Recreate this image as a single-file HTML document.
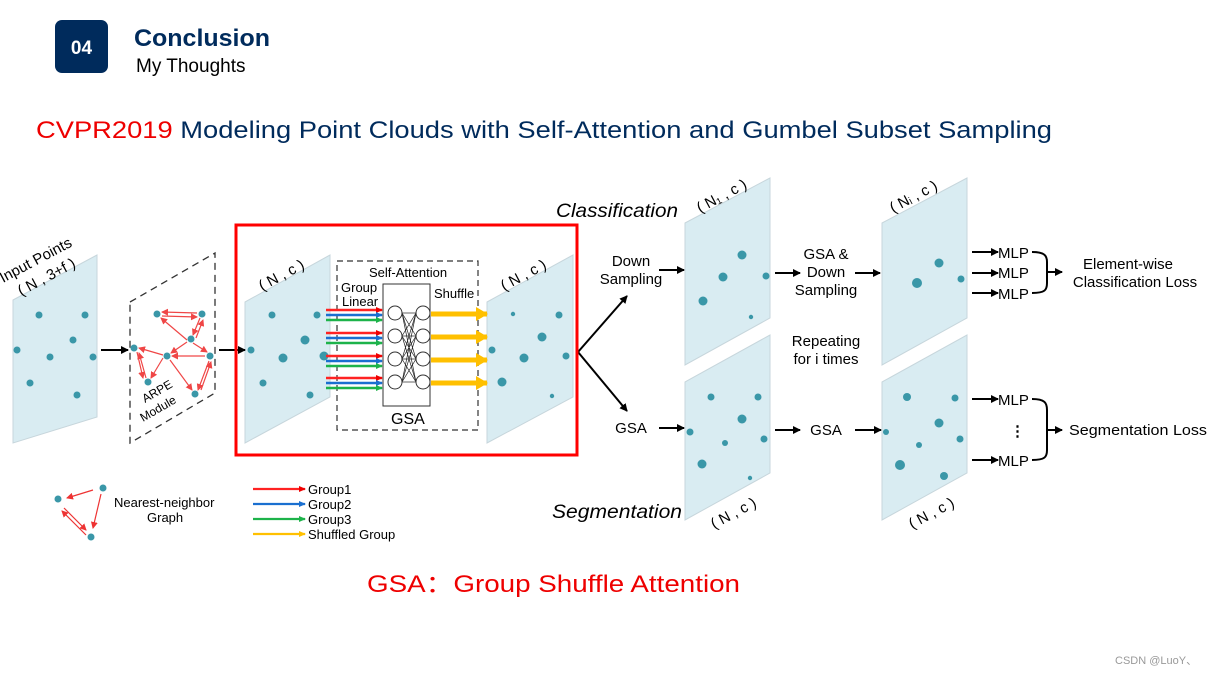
<!DOCTYPE html>
<html><head><meta charset="utf-8"><style>
html,body{margin:0;padding:0;background:#fff;}
svg{display:block;font-family:"Liberation Sans","Noto Sans CJK SC",sans-serif;}
</style></head><body>
<svg width="1209" height="675" viewBox="0 0 1209 675" xmlns="http://www.w3.org/2000/svg">
<defs>
<marker id="ak" markerWidth="8" markerHeight="8" refX="7" refY="4" orient="auto" markerUnits="userSpaceOnUse"><path d="M0,0 L8,4 L0,8 z" fill="#000"/></marker>
<marker id="ar" markerWidth="7" markerHeight="7" refX="6" refY="3.5" orient="auto" markerUnits="userSpaceOnUse"><path d="M0,0 L7,3.5 L0,7 z" fill="#e33"/></marker>
<marker id="ar2" markerWidth="7" markerHeight="6" refX="6" refY="3" orient="auto" markerUnits="userSpaceOnUse"><path d="M0,0 L7,3 L0,6 z" fill="#e00"/></marker>
<marker id="ab" markerWidth="7" markerHeight="6" refX="6" refY="3" orient="auto" markerUnits="userSpaceOnUse"><path d="M0,0 L7,3 L0,6 z" fill="#1a6fd0"/></marker>
<marker id="ag" markerWidth="7" markerHeight="6" refX="6" refY="3" orient="auto" markerUnits="userSpaceOnUse"><path d="M0,0 L7,3 L0,6 z" fill="#1db34a"/></marker>
<marker id="ay" markerWidth="7" markerHeight="6" refX="6" refY="3" orient="auto" markerUnits="userSpaceOnUse"><path d="M0,0 L7,3 L0,6 z" fill="#ffc000"/></marker>
<marker id="ay2" markerWidth="12" markerHeight="14" refX="11" refY="7" orient="auto" markerUnits="userSpaceOnUse"><path d="M0,0 L12,7 L0,14 z" fill="#ffc000"/></marker>
</defs>

<rect x="55" y="20" width="53" height="53" rx="7" fill="#002b5c"/>
<text x="81.5" y="54" font-size="19" font-weight="bold" fill="#fff" text-anchor="middle">04</text>
<text x="134" y="46" font-size="24" font-weight="bold" fill="#002b5c" textLength="136" lengthAdjust="spacingAndGlyphs">Conclusion</text>
<text x="136" y="72" font-size="19" fill="#000">My Thoughts</text>

<text x="36" y="138" font-size="24" fill="#002b5c" textLength="1016" lengthAdjust="spacingAndGlyphs"><tspan fill="#e00">CVPR2019</tspan> Modeling Point Clouds with Self-Attention and Gumbel Subset Sampling</text>

<g fill="#d9ecf2" stroke="#c7d6dc" stroke-width="1">
<polygon points="13,300 97,255 97,417 13,443"/>
<polygon points="245,302 330,255 330,397 245,443"/>
<polygon points="487,302 573,255 573,397 487,443"/>
<polygon points="685,223 770,178 770,318 685,365"/>
<polygon points="685,382 770,335 770,473 685,520"/>
<polygon points="882,223 967,178 967,318 882,365"/>
<polygon points="882,382 967,335 967,473 882,520"/>
</g>
<polygon points="130,302 215,253 215,393 130,443" fill="none" stroke="#333" stroke-width="1.3" stroke-dasharray="7,5"/>

<g fill="#3a97a8">
<circle cx="39" cy="315" r="3.5"/><circle cx="85" cy="315" r="3.5"/><circle cx="73" cy="340" r="3.5"/>
<circle cx="17" cy="350" r="3.5"/><circle cx="50" cy="357" r="3.5"/><circle cx="93" cy="357" r="3.5"/>
<circle cx="30" cy="383" r="3.5"/><circle cx="77" cy="395" r="3.5"/>
<circle cx="157" cy="314" r="3.5"/><circle cx="202" cy="314" r="3.5"/><circle cx="191" cy="339" r="3.5"/>
<circle cx="134" cy="348" r="3.5"/><circle cx="167" cy="356" r="3.5"/><circle cx="210" cy="356" r="3.5"/>
<circle cx="148" cy="382" r="3.5"/><circle cx="195" cy="394" r="3.5"/>
<circle cx="272" cy="315" r="3.5"/><circle cx="317" cy="315" r="3.5"/><circle cx="305" cy="340" r="4.5"/>
<circle cx="251" cy="350" r="3.5"/><circle cx="283" cy="358" r="4.5"/><circle cx="324" cy="356" r="4.5"/>
<circle cx="263" cy="383" r="3.5"/><circle cx="310" cy="395" r="3.5"/>
<circle cx="513" cy="314" r="2.2"/><circle cx="559" cy="315" r="3.5"/><circle cx="542" cy="337" r="4.5"/>
<circle cx="492" cy="350" r="3.5"/><circle cx="524" cy="358" r="4.5"/><circle cx="566" cy="356" r="3.5"/>
<circle cx="502" cy="382" r="4.5"/><circle cx="552" cy="396" r="2.2"/>
<circle cx="742" cy="255" r="4.5"/><circle cx="723" cy="277" r="4.5"/><circle cx="766" cy="276" r="3.5"/>
<circle cx="703" cy="301" r="4.5"/><circle cx="751" cy="317" r="2.2"/>
<circle cx="711" cy="397" r="3.5"/><circle cx="758" cy="397" r="3.5"/><circle cx="742" cy="419" r="4.5"/>
<circle cx="690" cy="432" r="3.5"/><circle cx="725" cy="443" r="3"/><circle cx="764" cy="439" r="3.5"/>
<circle cx="702" cy="464" r="4.5"/><circle cx="750" cy="478" r="2.2"/>
<circle cx="939" cy="263" r="4.5"/><circle cx="917" cy="283" r="5"/><circle cx="961" cy="279" r="3.5"/>
<circle cx="907" cy="397" r="4"/><circle cx="955" cy="398" r="3.5"/><circle cx="939" cy="423" r="4.5"/>
<circle cx="886" cy="432" r="3"/><circle cx="919" cy="445" r="3"/><circle cx="960" cy="439" r="3.5"/>
<circle cx="900" cy="465" r="5"/><circle cx="944" cy="476" r="4"/>
</g>

<g stroke="#e33" stroke-width="1.2" fill="none" marker-end="url(#ar)" opacity="0.9">
<line x1="197" y1="313" x2="162" y2="312"/><line x1="162" y1="316" x2="197" y2="317"/>
<line x1="200" y1="318" x2="193" y2="335"/><line x1="196" y1="338" x2="203" y2="320"/>
<line x1="187" y1="340" x2="161" y2="318"/><line x1="187" y1="342" x2="171" y2="353"/>
<line x1="193" y1="343" x2="207" y2="352"/><line x1="205" y1="356" x2="172" y2="356"/>
<line x1="163" y1="355" x2="139" y2="348"/><line x1="163" y1="358" x2="151" y2="378"/>
<line x1="137" y1="352" x2="143" y2="378"/><line x1="146" y1="378" x2="139" y2="353"/>
<line x1="170" y1="360" x2="192" y2="390"/><line x1="209" y1="361" x2="198" y2="390"/><line x1="201" y1="390" x2="211" y2="362"/>
</g>

<g stroke="#000" stroke-width="2" fill="none" marker-end="url(#ak)">
<line x1="101" y1="350" x2="128" y2="350"/>
<line x1="219" y1="350" x2="245" y2="350"/>
<line x1="578" y1="352" x2="627" y2="296"/>
<line x1="578" y1="352" x2="627" y2="411"/>
<line x1="659" y1="270" x2="684" y2="270"/>
<line x1="659" y1="428" x2="684" y2="428"/>
<line x1="775" y1="273" x2="800" y2="273"/>
<line x1="855" y1="273" x2="880" y2="273"/>
<line x1="775" y1="430" x2="800" y2="430"/>
<line x1="855" y1="430" x2="881" y2="430"/>
<line x1="972" y1="252" x2="998" y2="252"/>
<line x1="972" y1="273" x2="998" y2="273"/>
<line x1="972" y1="293" x2="998" y2="293"/>
<line x1="972" y1="399" x2="998" y2="399"/>
<line x1="972" y1="460" x2="998" y2="460"/>
<line x1="1047" y1="272" x2="1062" y2="272"/>
<line x1="1047" y1="430" x2="1062" y2="430"/>
</g>
<g stroke="#000" stroke-width="2" fill="none">
<path d="M1032,252 C1045,252 1047,256 1047,262 L1047,283 C1047,290 1045,293 1032,293"/>
<path d="M1032,399 C1045,399 1047,403 1047,410 L1047,450 C1047,457 1045,460 1032,460"/>
</g>
<g font-size="15" fill="#000">
<text x="998" y="258">MLP</text><text x="998" y="278">MLP</text><text x="998" y="299">MLP</text>
<text x="998" y="405">MLP</text><text x="998" y="466">MLP</text>
<text x="1010" y="436" font-weight="bold">⋮</text>
<text x="1128" y="269" text-anchor="middle">Element-wise</text>
<text x="1135" y="287" text-anchor="middle">Classification Loss</text>
<text x="1069" y="435" textLength="138" lengthAdjust="spacingAndGlyphs">Segmentation Loss</text>
<text x="631" y="266" text-anchor="middle">Down</text><text x="631" y="284" text-anchor="middle">Sampling</text>
<text x="631" y="433" text-anchor="middle">GSA</text>
<text x="826" y="259" text-anchor="middle">GSA &amp;</text>
<text x="826" y="277" text-anchor="middle">Down</text>
<text x="826" y="295" text-anchor="middle">Sampling</text>
<text x="826" y="346" text-anchor="middle">Repeating</text>
<text x="826" y="364" text-anchor="middle">for i times</text>
<text x="826" y="435" text-anchor="middle">GSA</text>
</g>
<g font-size="19" font-style="italic" fill="#000">
<text x="556" y="217" textLength="122" lengthAdjust="spacingAndGlyphs">Classification</text>
<text x="552" y="518" textLength="130" lengthAdjust="spacingAndGlyphs">Segmentation</text>
</g>
<g font-size="15" fill="#000">
<text transform="translate(3,283) rotate(-28)">Input Points</text>
<text transform="translate(21,296) rotate(-28)">( N , 3+f )</text>
<text transform="translate(262,291) rotate(-28)">( N , c )</text>
<text transform="translate(504,291) rotate(-28)">( N , c )</text>
<text transform="translate(700,213) rotate(-28)">( N₁ , c )</text>
<text transform="translate(893,213) rotate(-28)">( Nᵢ , c )</text>
<text transform="translate(714,529) rotate(-28)">( N , c )</text>
<text transform="translate(912,529) rotate(-28)">( N , c )</text>
</g>
<g font-size="12" fill="#000">
<text transform="translate(145,403) rotate(-30)">ARPE</text>
<text transform="translate(143,422) rotate(-30)">Module</text>
</g>

<rect x="236" y="225" width="341" height="230" fill="none" stroke="#f00" stroke-width="3"/>

<rect x="337" y="261" width="141" height="169" fill="none" stroke="#333" stroke-width="1.2" stroke-dasharray="6,4"/>
<rect x="383" y="284" width="47" height="122" fill="#fff" stroke="#333" stroke-width="1"/>
<g stroke="#222" stroke-width="0.7">
<line x1="402" y1="313" x2="416" y2="313"/><line x1="402" y1="336" x2="416" y2="336"/><line x1="402" y1="359" x2="416" y2="359"/><line x1="402" y1="382" x2="416" y2="382"/>
<line x1="402" y1="313" x2="416" y2="336"/><line x1="402" y1="313" x2="416" y2="359"/><line x1="402" y1="313" x2="416" y2="382"/>
<line x1="402" y1="336" x2="416" y2="313"/><line x1="402" y1="336" x2="416" y2="359"/><line x1="402" y1="336" x2="416" y2="382"/>
<line x1="402" y1="359" x2="416" y2="313"/><line x1="402" y1="359" x2="416" y2="336"/><line x1="402" y1="359" x2="416" y2="382"/>
<line x1="402" y1="382" x2="416" y2="313"/><line x1="402" y1="382" x2="416" y2="336"/><line x1="402" y1="382" x2="416" y2="359"/>
</g>
<g fill="#fff" stroke="#333" stroke-width="1">
<circle cx="395" cy="313" r="7"/><circle cx="395" cy="336" r="7"/><circle cx="395" cy="359" r="7"/><circle cx="395" cy="382" r="7"/>
<circle cx="423" cy="313" r="7"/><circle cx="423" cy="336" r="7"/><circle cx="423" cy="359" r="7"/><circle cx="423" cy="382" r="7"/>
</g>
<g stroke-width="2.5" fill="none">
<line x1="326" y1="310" x2="382" y2="310" stroke="#f22" marker-end="url(#ar2)"/>
<line x1="326" y1="315" x2="382" y2="315" stroke="#1a6fd0" marker-end="url(#ab)"/>
<line x1="326" y1="320" x2="382" y2="320" stroke="#1db34a" marker-end="url(#ag)"/>
<line x1="326" y1="333" x2="382" y2="333" stroke="#f22" marker-end="url(#ar2)"/>
<line x1="326" y1="338" x2="382" y2="338" stroke="#1a6fd0" marker-end="url(#ab)"/>
<line x1="326" y1="343" x2="382" y2="343" stroke="#1db34a" marker-end="url(#ag)"/>
<line x1="326" y1="356" x2="382" y2="356" stroke="#f22" marker-end="url(#ar2)"/>
<line x1="326" y1="361" x2="382" y2="361" stroke="#1a6fd0" marker-end="url(#ab)"/>
<line x1="326" y1="366" x2="382" y2="366" stroke="#1db34a" marker-end="url(#ag)"/>
<line x1="326" y1="378" x2="382" y2="378" stroke="#f22" marker-end="url(#ar2)"/>
<line x1="326" y1="383" x2="382" y2="383" stroke="#1a6fd0" marker-end="url(#ab)"/>
<line x1="326" y1="388" x2="382" y2="388" stroke="#1db34a" marker-end="url(#ag)"/>
</g>
<g stroke="#ffc000" stroke-width="5" fill="none" marker-end="url(#ay2)">
<line x1="431" y1="314" x2="487" y2="314"/>
<line x1="431" y1="337" x2="487" y2="337"/>
<line x1="431" y1="360" x2="487" y2="360"/>
<line x1="431" y1="383" x2="487" y2="383"/>
</g>
<g font-size="13" fill="#000">
<text x="369" y="277">Self-Attention</text>
<text x="341" y="292">Group</text>
<text x="342" y="306">Linear</text>
<text x="434" y="298">Shuffle</text>
<text x="391" y="424" font-size="16">GSA</text>
</g>

<g fill="#3a97a8"><circle cx="58" cy="499" r="3.5"/><circle cx="103" cy="488" r="3.5"/><circle cx="91" cy="537" r="3.5"/></g>
<g stroke="#e33" stroke-width="1.2" marker-end="url(#ar)">
<line x1="93" y1="490" x2="67" y2="498"/>
<line x1="101" y1="494" x2="93" y2="528"/>
<line x1="64" y1="508" x2="86" y2="530"/>
<line x1="86" y1="535" x2="62" y2="511"/>
</g>
<g font-size="13" fill="#000">
<text x="114" y="507">Nearest-neighbor</text>
<text x="147" y="522">Graph</text>
<text x="308" y="494">Group1</text>
<text x="308" y="509">Group2</text>
<text x="308" y="524">Group3</text>
<text x="308" y="539">Shuffled Group</text>
</g>
<g stroke-width="2.2">
<line x1="253" y1="489" x2="305" y2="489" stroke="#f22" marker-end="url(#ar2)"/>
<line x1="253" y1="504" x2="305" y2="504" stroke="#1a6fd0" marker-end="url(#ab)"/>
<line x1="253" y1="519" x2="305" y2="519" stroke="#1db34a" marker-end="url(#ag)"/>
<line x1="253" y1="534" x2="305" y2="534" stroke="#ffc000" marker-end="url(#ay)"/>
</g>

<text x="367" y="592" font-size="24" fill="#e00" textLength="373" lengthAdjust="spacingAndGlyphs">GSA：Group Shuffle Attention</text>
<text x="1115" y="664" font-size="11" fill="#999">CSDN @LuoY、</text>
</svg>
</body></html>
